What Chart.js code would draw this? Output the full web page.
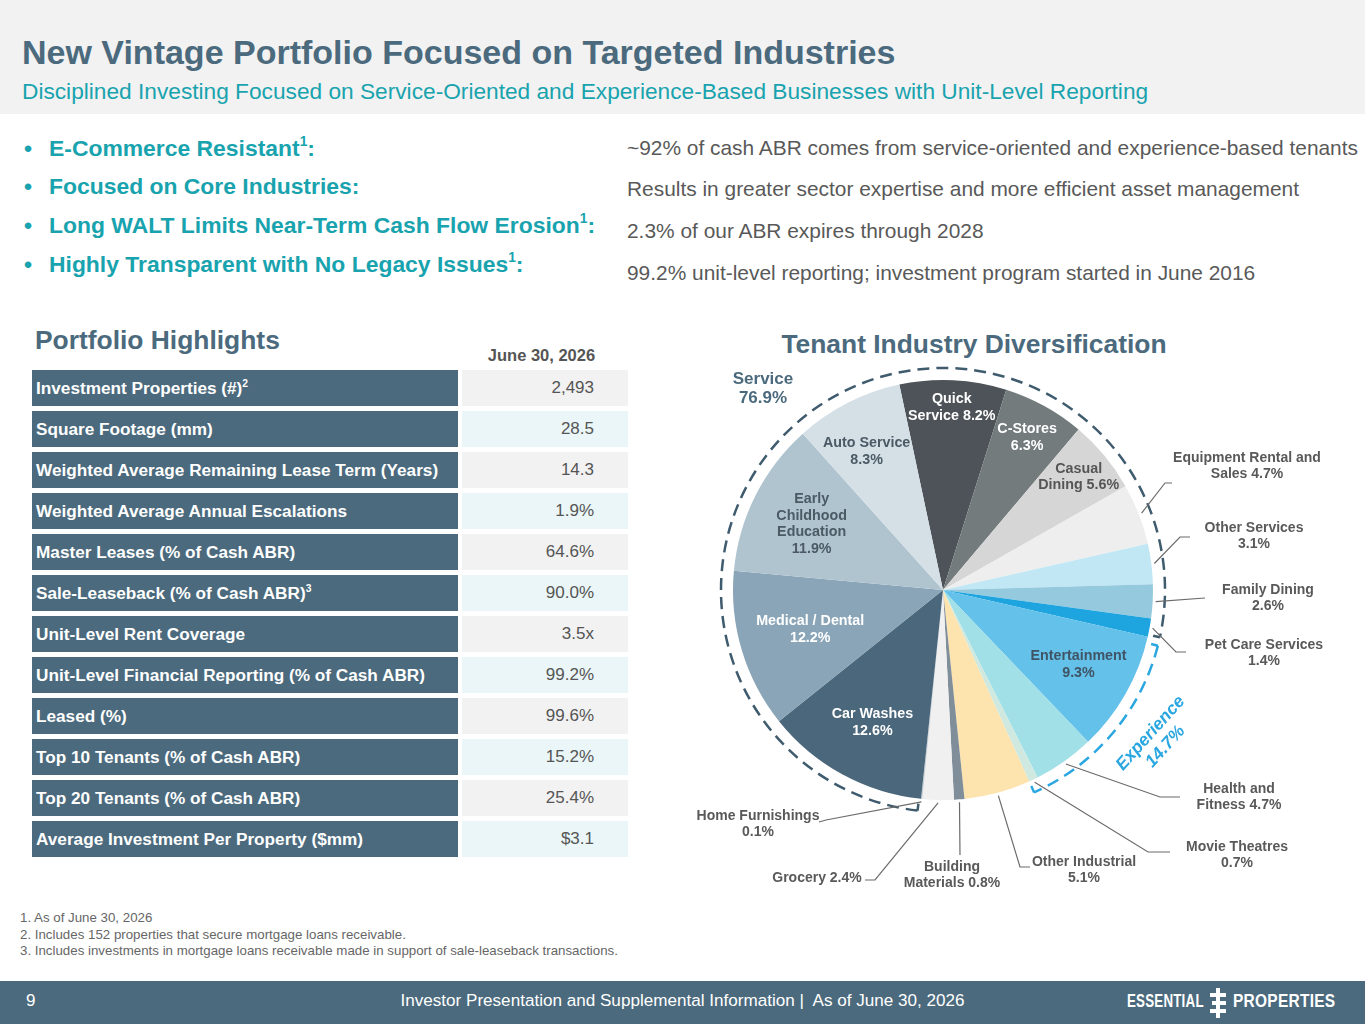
<!DOCTYPE html>
<html>
<head>
<meta charset="utf-8">
<script src="https://cdn.jsdelivr.net/npm/chart.js@4/dist/chart.umd.min.js"></script>
<style>
  body { margin: 0; width: 1365px; height: 1024px; position: relative; overflow: hidden; background: #fff; font-family: "Liberation Sans", Arial, sans-serif; }
  .abs { position: absolute; white-space: nowrap; }
  #header { left: 0; top: 0; width: 1365px; height: 114px; background: #f2f2f2; }
  #title { left: 22px; top: 33px; font-size: 34px; line-height: 38px; font-weight: bold; color: #4b6a7d; }
  #subtitle { left: 22px; top: 77px; font-size: 22.7px; line-height: 28px; color: #18a3ae; }
  .bullet { left: 24px; font-size: 22.9px; line-height: 26px; font-weight: bold; color: #18a3ae; }
  .bullet span.dot { display: inline-block; width: 25px; }
  .point { left: 627px; font-size: 20.9px; line-height: 26px; color: #595959; }
  sup { font-size: 0.6em; line-height: 0; vertical-align: 0.7em; }
  #ph { left: 35px; top: 324px; font-size: 26.4px; line-height: 32px; font-weight: bold; color: #4b6a7d; }
  #asof { left: 476px; top: 345px; width: 131px; text-align: center; font-size: 16.5px; line-height: 20px; font-weight: bold; color: #555; }
  .lab { left: 32px; width: 422px; height: 36px; padding-left: 4px; background: #4b6a7d; color: #fff; font-weight: bold; font-size: 17.2px; line-height: 36px; }
  .val { left: 462px; width: 132px; height: 36px; padding-right: 34px; text-align: right; color: #555; font-size: 17px; line-height: 36px; }
  #tid { left: 700px; top: 328px; width: 548px; text-align: center; font-size: 26.4px; line-height: 32px; font-weight: bold; color: #4b6a7d; }
  .fn { left: 20px; font-size: 13.3px; line-height: 16px; color: #666; }
  #footer { left: 0; top: 981px; width: 1365px; height: 43px; background: #4b6a7d; }
  #pageno { left: 26px; top: 990px; font-size: 17px; line-height: 22px; color: #fff; }
  #ftext { left: 300px; top: 990px; width: 765px; text-align: center; font-size: 17.1px; line-height: 22px; color: #fff; }
  .logo { top: 990px; font-size: 18px; line-height: 22px; font-weight: bold; color: #fff; transform-origin: left center; letter-spacing: 0.3px; }
  .bar { position: absolute; background: #fff; }
  #pie { position: absolute; left: 680px; top: 355px; }
</style>
</head>
<body>
<div id="header" class="abs"></div>
<div id="title" class="abs">New Vintage Portfolio Focused on Targeted Industries</div>
<div id="subtitle" class="abs">Disciplined Investing Focused on Service-Oriented and Experience-Based Businesses with Unit-Level Reporting</div>
<div id="bullets"></div>
<div id="ph" class="abs">Portfolio Highlights</div>
<div id="asof" class="abs">June 30, 2026</div>
<div id="table"></div>
<div id="tid" class="abs">Tenant Industry Diversification</div>
<canvas id="pie" width="685" height="545"></canvas>
<div class="abs fn" style="top:910px">1. As of June 30, 2026</div>
<div class="abs fn" style="top:927px">2. Includes 152 properties that secure mortgage loans receivable.</div>
<div class="abs fn" style="top:943px">3. Includes investments in mortgage loans receivable made in support of sale-leaseback transactions.</div>
<div id="footer" class="abs"></div>
<div id="pageno" class="abs">9</div>
<div id="ftext" class="abs">Investor Presentation and Supplemental Information |&nbsp; As of June 30, 2026</div>
<div class="abs logo" style="left:1127px; transform:scaleX(0.74)">ESSENTIAL</div>
<div class="bar" style="left:1216px; top:988px; width:4px; height:30px"></div>
<div class="bar" style="left:1210px; top:993px; width:16px; height:4px"></div>
<div class="bar" style="left:1212px; top:1001px; width:14px; height:4px"></div>
<div class="bar" style="left:1210px; top:1009px; width:16px; height:4px"></div>
<div class="abs logo" style="left:1233px; transform:scaleX(0.86)">PROPERTIES</div>

<script>
'use strict';

// bullet points
const bulletHeads = ['E-Commerce Resistant', 'Focused on Core Industries', 'Long WALT Limits Near-Term Cash Flow Erosion', 'Highly Transparent with No Legacy Issues'];
const bulletNotes = ['1', '', '1', '1'];
const bulletTexts = ['~92% of cash ABR comes from service-oriented and experience-based tenants', 'Results in greater sector expertise and more efficient asset management', '2.3% of our ABR expires through 2028', '99.2% unit-level reporting; investment program started in June 2016'];

// portfolio highlights table
const rowLabels = ['Investment Properties (#)', 'Square Footage (mm)', 'Weighted Average Remaining Lease Term (Years)', 'Weighted Average Annual Escalations', 'Master Leases (% of Cash ABR)', 'Sale-Leaseback (% of Cash ABR)', 'Unit-Level Rent Coverage', 'Unit-Level Financial Reporting (% of Cash ABR)', 'Leased (%)', 'Top 10 Tenants (% of Cash ABR)', 'Top 20 Tenants (% of Cash ABR)', 'Average Investment Per Property ($mm)'];
const rowNotes = ['2', '', '', '', '', '3', '', '', '', '', '', ''];
const rowValues = ['2,493', '28.5', '14.3', '1.9%', '64.6%', '90.0%', '3.5x', '99.2%', '99.6%', '15.2%', '25.4%', '$3.1'];

// tenant industries, clockwise from the top
const industries = ['Quick Service', 'C-Stores', 'Casual Dining', 'Equipment Rental and Sales', 'Other Services', 'Family Dining', 'Pet Care Services', 'Entertainment', 'Health and Fitness', 'Movie Theatres', 'Other Industrial', 'Building Materials', 'Grocery', 'Home Furnishings', 'Car Washes', 'Medical / Dental', 'Early Childhood Education', 'Auto Service'];
const shares = [8.2, 6.3, 5.6, 4.7, 3.1, 2.6, 1.4, 9.3, 4.7, 0.7, 5.1, 0.8, 2.4, 0.1, 12.6, 12.2, 11.9, 8.3];
const serviceShare = '76.9%';
const experienceShare = '14.7%';

const sliceColors = ['#4d5358', '#737b7d', '#d6d6d6', '#eeeeee', '#c1e7f5', '#95cade', '#1ea5e0', '#64c1ea', '#a0e0e6', '#cfe9e0', '#fde3ad', '#7f8e98', '#f0f0f0', '#c8d0d6', '#4b677b', '#8aa5b7', '#b0c4d0', '#d4dfe6'];

let html = '';
for (let i = 0; i < bulletHeads.length; i++) {
  let y = [135, 173, 212, 251][i];
  let sup = bulletNotes[i] ? '<sup>' + bulletNotes[i] + '</sup>' : '';
  html += '<div class="abs bullet" style="top:' + y + 'px"><span class="dot">&bull;</span>' + bulletHeads[i] + sup + ':</div>';
  let y2 = [135, 176, 218, 260][i];
  html += '<div class="abs point" style="top:' + y2 + 'px">' + bulletTexts[i] + '</div>';
}
document.getElementById('bullets').innerHTML = html;

html = '';
for (let i = 0; i < rowLabels.length; i++) {
  let top = 370 + i * 41;
  let sup = rowNotes[i] ? '<sup>' + rowNotes[i] + '</sup>' : '';
  html += '<div class="abs lab" style="top:' + top + 'px">' + rowLabels[i] + sup + '</div>';
  html += '<div class="abs val" style="top:' + top + 'px; background:' + (i % 2 ? '#eaf6f7' : '#f2f2f2') + '">' + rowValues[i] + '</div>';
}
document.getElementById('table').innerHTML = html;

// labels drawn inside the slices: lines, radius fraction, text colour, x nudge
const insideLabels = {
  0: [['Quick', 'Service 8.2%'], 0.87, '#fff', 0],
  1: [['C-Stores', '6.3%'], 0.83, '#fff', 0],
  2: [['Casual', 'Dining 5.6%'], 0.84, '#555', 0],
  7: [['Entertainment', '9.3%'], 0.72, '#3f5566', 4],
  14: [['Car Washes', '12.6%'], 0.72, '#fff', 2],
  15: [['Medical / Dental', '12.2%'], 0.66, '#fff', 0],
  16: [['Early', 'Childhood', 'Education', '11.9%'], 0.70, '#4b5a65', 0],
  17: [['Auto Service', '8.3%'], 0.74, '#4b5a65', -6]
};
// callouts outside the pie: text lines, text centre, elbow, line end (offsets from pie centre)
const callouts = {
  3: [['Equipment Rental and', 'Sales 4.7%'], [304, -124], [222, -107], [229, -107]],
  4: [['Other Services', '3.1%'], [311, -54], [237, -53], [247, -53]],
  5: [['Family Dining', '2.6%'], [325, 8], [262, 8], [262, 8]],
  6: [['Pet Care Services', '1.4%'], [321, 63], [233, 62], [243, 62]],
  8: [['Health and', 'Fitness 4.7%'], [296, 207], [217, 207], [237, 207]],
  9: [['Movie Theatres', '0.7%'], [294, 265], [205, 262], [227, 262]],
  10: [['Other Industrial', '5.1%'], [141, 280], [77, 277], [87, 277]],
  11: [['Building', 'Materials 0.8%'], [9, 285], [17, 265], [17, 265]],
  12: [['Grocery 2.4%'], [-126, 288], [-68, 290], [-78, 290]],
  13: [['Home Furnishings', '0.1%'], [-185, 234], [-117, 230], [-124, 232]]
};

const pieLabels = {
  id: 'pieLabels',
  afterDatasetsDraw(chart) {
    const ctx = chart.ctx;
    const arcs = chart.getDatasetMeta(0).data;
    const cx = arcs[0].x, cy = arcs[0].y, r = arcs[0].outerRadius;
    const R = r + 12;
    ctx.save();

    // group brackets
    function bracket(a0, a1, color) {
      ctx.strokeStyle = color;
      ctx.lineWidth = 2.5;
      ctx.setLineDash([12, 7]);
      ctx.beginPath();
      ctx.arc(cx, cy, R, a0, a1);
      ctx.stroke();
      ctx.setLineDash([]);
      [a0, a1].forEach(a => {
        ctx.beginPath();
        ctx.moveTo(cx + R * Math.cos(a), cy + R * Math.sin(a));
        ctx.lineTo(cx + (R - 7) * Math.cos(a), cy + (R - 7) * Math.sin(a));
        ctx.stroke();
      });
    }
    bracket(arcs[14].startAngle + 0.01, arcs[6].endAngle + Math.PI * 2 - 0.01, '#3f5b6e');
    bracket(arcs[7].startAngle + 0.03, arcs[9].endAngle, '#2aa6e0');

    ctx.textAlign = 'center';
    ctx.textBaseline = 'middle';

    // inside labels
    ctx.font = 'bold 14.3px "Liberation Sans", Arial';
    Object.keys(insideLabels).forEach(k => {
      const [lines, f, color, dx] = insideLabels[k];
      const a = (arcs[k].startAngle + arcs[k].endAngle) / 2;
      const x = cx + r * f * Math.cos(a) + dx, y = cy + r * f * Math.sin(a);
      ctx.fillStyle = color;
      lines.forEach((t, j) => ctx.fillText(t, x, y + (j - (lines.length - 1) / 2) * 16.5));
    });

    // callouts
    ctx.font = 'bold 14px "Liberation Sans", Arial';
    ctx.strokeStyle = '#6b6b6b';
    ctx.lineWidth = 1.2;
    Object.keys(callouts).forEach(k => {
      const [lines, txt, elbow, end] = callouts[k];
      const a = (arcs[k].startAngle + arcs[k].endAngle) / 2;
      ctx.beginPath();
      ctx.moveTo(cx + (r + 3) * Math.cos(a), cy + (r + 3) * Math.sin(a));
      ctx.lineTo(cx + elbow[0], cy + elbow[1]);
      ctx.lineTo(cx + end[0], cy + end[1]);
      ctx.stroke();
      ctx.fillStyle = '#595959';
      lines.forEach((t, j) => ctx.fillText(t, cx + txt[0], cy + txt[1] + (j - (lines.length - 1) / 2) * 16));
    });

    // group names
    ctx.font = 'bold 17px "Liberation Sans", Arial';
    ctx.fillStyle = '#4b6a7d';
    ctx.fillText('Service', cx - 180, cy - 211);
    ctx.fillText(serviceShare, cx - 180, cy - 192);
    ctx.translate(cx + 215, cy + 150);
    ctx.rotate(-48 * Math.PI / 180);
    ctx.font = 'italic bold 17.5px "Liberation Sans", Arial';
    ctx.fillStyle = '#2aa6e0';
    ctx.fillText('Experience', 0, -10);
    ctx.fillText(experienceShare, 0, 10);
    ctx.restore();
  }
};

new Chart(document.getElementById('pie').getContext('2d'), {
  type: 'pie',
  data: {
    labels: industries,
    datasets: [{
      data: shares,
      backgroundColor: sliceColors,
      borderWidth: 0,
      hoverOffset: 0
    }]
  },
  options: {
    responsive: false,
    animation: false,
    rotation: -12,
    layout: { padding: { left: 53, right: 212, top: 25, bottom: 100 } },
    plugins: { legend: { display: false }, tooltip: { enabled: false } }
  },
  plugins: [pieLabels]
});
</script>
</body>
</html>
